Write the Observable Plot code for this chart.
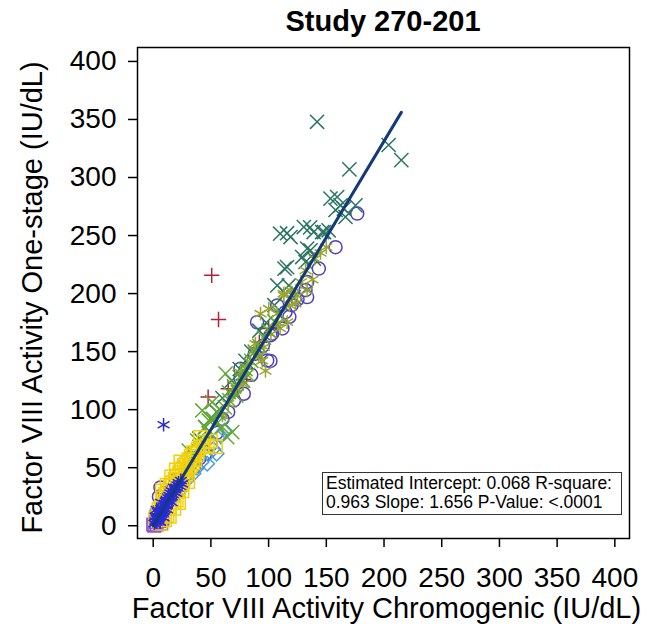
<!DOCTYPE html>
<html><head><meta charset="utf-8">
<script src="https://cdn.jsdelivr.net/npm/d3@7"></script>
<script src="https://cdn.jsdelivr.net/npm/@observablehq/plot@0.6"></script>
<style>
body{margin:0;background:#fff;}
#wrap{position:relative;width:647px;height:628px;font-family:"Liberation Sans",Arial,sans-serif;color:#000;}
#chart svg{display:block;}
#title{position:absolute;left:137px;width:492px;top:7px;text-align:center;font-weight:bold;font-size:29px;line-height:1;}
#stats{position:absolute;left:322px;top:472px;width:300px;height:43px;box-sizing:border-box;border:1px solid #333;background:#fff;font-size:17.5px;line-height:19px;padding:1px 0 0 3px;white-space:nowrap;}
</style></head>
<body><div id="wrap"><div id="chart"></div><div id="title"></div><div id="stats"></div></div>
<script>
const titleText = "Study 270-201";
const xTitle = "Factor VIII Activity Chromogenic (IU/dL)";
const yTitle = "Factor VIII Activity One-stage (IU/dL)";
const xTicks = [0, 50, 100, 150, 200, 250, 300, 350, 400];
const yTicks = [0, 50, 100, 150, 200, 250, 300, 350, 400];
const statLines = ["Estimated Intercept: 0.068 R-square:", "0.963 Slope: 1.656 P-Value: <.0001"];
const fitIntercept = 0.068;
const fitSlope = 1.656;

// subject groups: [chromogenic, one-stage]
const circlesPts = [[6.3,33],[15,30],[5,25],[10,28],[3,12],[20,40],[25,35],[30,45],[35,50],[40,58],[45,62],[50,70],[55,80],[60,92],[65,98],[70,108],[75.6,126.6],[78.5,113.7],[75.6,135.3],[85,130],[90,175.4],[98.8,142.4],[101.6,142],[101.6,164],[103,165.4],[107.5,189.8],[114.6,184],[118,180],[112,170],[125,195],[132,203],[133.4,197],[133.4,210],[143.5,221.5],[158,240],[176.8,268.9],[120,190],[95,155],[88,148]];
const redPlusPts = [[47.6,110.8],[50.7,215.7],[56.6,177.7],[65,118],[78,126],[92,158],[100,170]];
const tealXPts = [[40,75],[45,85],[50,92],[55,98],[60,110],[68,125],[75,135],[80,142],[85,150],[92,168],[98,175],[105,190],[107.5,207],[113.8,221.5],[114.6,200],[116,222.8],[117.5,207],[121.8,197],[110,251.6],[116,252],[119,248.7],[129.1,231.5],[130.5,257.3],[132,227.2],[133.4,238.7],[136,257],[136.3,237.2],[139,253],[139.2,230],[146.4,253],[148,253],[152,254.5],[153.6,281.8],[158,272],[159.4,283.2],[162.3,276],[165.2,273.2],[166.6,266],[175.3,276],[170,307],[142,348],[204,328],[215,315]];
const purpleSquarePts = [[0,1],[1,0],[2,3],[3,1],[5,4],[7,2],[8,6],[4,8]];
const oliveAsteriskPts = [[60,95],[65,105],[70,115],[72,118],[75.6,132],[78,122],[81.5,136.4],[84.3,141],[87.2,151],[88.6,156.8],[91.5,146.7],[93,182.7],[94.5,142.2],[95.9,153.9],[97.3,133.4],[100.2,187],[102,165],[107.5,182.7],[108,175],[110,170],[113,200],[113.2,198.4],[116.1,175.4],[118,190],[119,202.8],[123.3,191.3],[125,198],[128,210],[133.4,202.6],[138,212],[140,230],[132,220],[145,235],[150,240]];
const lightBlueDiamondPts = [[20,26],[25,32],[30,40],[35,45],[38,50],[42,55],[46.8,53.4],[48,62],[52,66],[55,62],[58,78],[62,82]];
const greenXPts = [[22,40],[25,44],[28,50],[30.8,64.8],[33,58],[36,62],[38.1,73.4],[40,68],[42.5,99.3],[44,72],[45.3,85],[48,80],[48.2,90.7],[51.1,106.4],[52,92],[55,88],[56.8,96.5],[58,100],[59.8,85],[62,102],[64.1,76.3],[66,108],[68.5,80.6],[70,120],[72,112],[75,128],[78,125],[80,135],[82,130],[85,142],[88,150],[92,155],[96,162],[100,168],[105,176],[110,182],[65.5,115],[62.7,131]];
const yellowSquarePts = [[2,6],[4,10],[5,14],[7,17],[8,21],[9,24],[10,12],[11,27],[12,9],[13,30],[14,16],[15,34],[16,20],[17,37],[18,26],[19,40],[20,22],[21,43],[22,31],[23,46],[24,36],[25,49],[26,40],[27,52],[28,44],[29,54],[30,48],[31,57],[32,51],[33,60],[34,54],[35,63],[36,57],[38,62],[39,66],[41,76],[43,68],[44,72],[46.8,69],[49.6,73],[54,68],[25,30],[30,38],[18,15],[22,20],[6,2],[10,5],[14,8],[8,30],[12,35],[16,42],[20,48],[24,55]];
const blueAsteriskPts = [[1,2],[2,4],[3,3],[3,6],[4,5],[4,8],[5,7],[5,10],[6,8],[6,12],[7,10],[7,13],[8,11],[8,15],[9,13],[9,17],[10,14],[10,19],[11,17],[11,21],[12,18],[12,22],[13,20],[13,24],[14,22],[14,26],[15,24],[15,28],[16,25],[16,30],[17,27],[18,29],[18,33],[19,31],[20,33],[21,35],[22,37],[23,34],[24,39],[25,36],[2,8],[4,12],[6,3],[9,7],[12,14],[16,20],[20,28],[3,14],[7,20],[9,87]];

const groups = [
  {pts: circlesPts, symbol: "circle", color: "#4f3fbf", r: 6.5},
  {pts: redPlusPts, symbol: "plus", color: "#b0243a", r: 5},
  {pts: tealXPts, symbol: "times", color: "#2b7563", r: 6.5},
  {pts: purpleSquarePts, symbol: "square2", color: "#8d4fcf", r: 8},
  {pts: oliveAsteriskPts, symbol: "asterisk", color: "#9aa432", r: 6.5},
  {pts: lightBlueDiamondPts, symbol: "diamond2", color: "#4a9be0", r: 6.5},
  {pts: greenXPts, symbol: "times", color: "#62a832", r: 6.5},
  {pts: yellowSquarePts, symbol: "square2", color: "#f2d10a", r: 8.5},
  {pts: blueAsteriskPts, symbol: "asterisk", color: "#2a2ad4", r: 6.5}
];

const allX = groups.flatMap(g => g.pts.map(p => p[0]));
const fitLine = d3.extent(allX).map(x => ({x, y: fitIntercept + fitSlope * x}));

const font = '"Liberation Sans", Arial, sans-serif';
const chart = Plot.plot({
  width: 647, height: 628,
  marginLeft: 137, marginRight: 18, marginTop: 47, marginBottom: 90,
  x: {domain: [-13.6, 412.7]},
  y: {domain: [-11, 412]},
  style: {fontFamily: font, fontSize: "28px", background: "#fff", color: "#000"},
  marks: [
    ...groups.map(g => Plot.dot(g.pts, {x: d => d[0], y: d => d[1], symbol: g.symbol, stroke: g.color, fill: "none", r: g.r, strokeWidth: 1.5})),
    Plot.line(fitLine, {x: "x", y: "y", stroke: "#123a7a", strokeWidth: 3}),
    Plot.frame({stroke: "#000", strokeWidth: 1.5}),
    Plot.axisY(yTicks, {tickSize: 9, tickPadding: 12, strokeWidth: 1.5, label: null, fontSize: 28}),
    Plot.axisX(xTicks, {tickSize: 9, tickPadding: 20, strokeWidth: 1.5, label: null, fontSize: 28}),
    Plot.text([yTitle], {frameAnchor: "left", textAnchor: "middle", lineAnchor: "middle", rotate: -90, dx: -105, dy: 4.5, text: d => d, fontSize: 29}),
    Plot.text([xTitle], {frameAnchor: "bottom", textAnchor: "middle", lineAnchor: "middle", dx: 3, dy: 70, text: d => d, fontSize: 29})
  ]
});
document.getElementById("chart").appendChild(chart);
document.getElementById("title").textContent = titleText;
const stats = document.getElementById("stats");
statLines.forEach(s => { const d = document.createElement("div"); d.textContent = s; stats.appendChild(d); });
</script>
</body></html>
